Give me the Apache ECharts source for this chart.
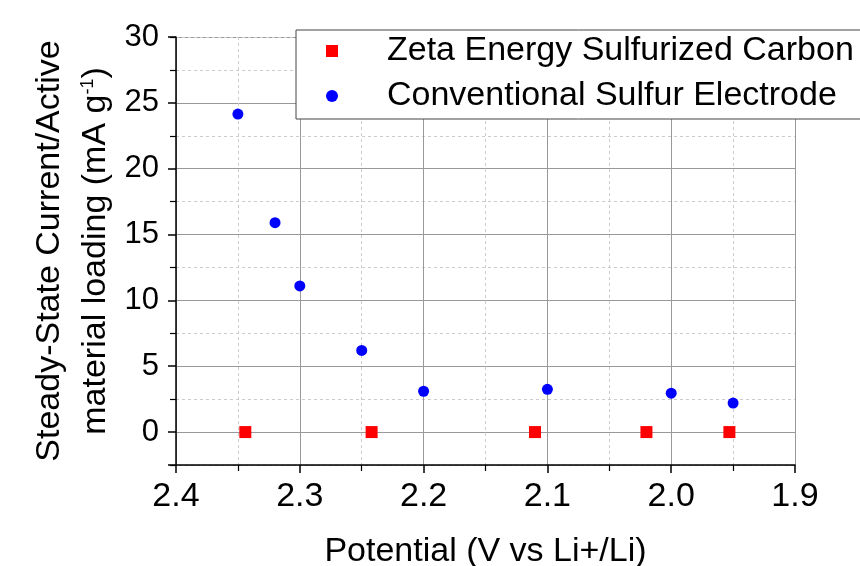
<!DOCTYPE html>
<html>
<head>
<meta charset="utf-8">
<script src="https://cdn.jsdelivr.net/npm/echarts@6/dist/echarts.min.js"></script>
<style>html,body{margin:0;padding:0;background:#fff}#c{width:860px;height:566px}</style>
</head>
<body>
<div id="c"></div>
<script>
var seriesNames = ['Zeta Energy Sulfurized Carbon', 'Conventional Sulfur Electrode'];
var zetaPotential = [2.344, 2.242, 2.110, 2.020, 1.953];
var zetaCurrent = [0, 0, 0, 0, 0];
var convPotential = [2.35, 2.32, 2.30, 2.25, 2.20, 2.10, 2.00, 1.95];
var convCurrent = [24.15, 15.9, 11.1, 6.2, 3.1, 3.25, 2.95, 2.2];
var xAxisTitle = 'Potential (V vs Li+/Li)';
var yAxisTitleLines = ['Steady-State Current/Active', 'material loading (mA g', '-1', ')'];

function pairs(xs, ys){ return xs.map(function(x,i){ return [x, ys[i]]; }); }

var FONT = 'Liberation Sans, Arial, sans-serif';
var chart = echarts.init(document.getElementById('c'), null, {renderer:'canvas'});
chart.setOption({
  backgroundColor: '#fff',
  animation: false,
  grid: {left: 176, right: 65, top: 37, bottom: 101, containLabel: false, outerBoundsMode: 'none'},
  legend: {
    orient: 'vertical', left: 296, top: 30,
    padding: [4, 40, 6, 30],
    itemGap: 11, itemWidth: 12, itemHeight: 12,
    borderColor: '#444', borderWidth: 1, backgroundColor: '#fff',
    textStyle: {fontFamily: FONT, fontSize: 34, color: '#000', padding: [0,0,0,44], lineHeight: 34},
    data: seriesNames
  },
  xAxis: {
    type: 'value', inverse: true, min: 1.9, max: 2.4, interval: 0.1,
    name: xAxisTitle, nameLocation: 'middle', nameGap: 70, nameMoveOverlap: false,
    nameTextStyle: {fontFamily: FONT, fontSize: 34, color: '#000'},
    axisLine: {show: true, onZero: false, lineStyle: {color: '#000', width: 1.5}},
    axisTick: {show: true, length: 8, lineStyle: {color: '#000', width: 1.5}},
    minorTick: {show: true, splitNumber: 2, length: 6, lineStyle: {color: '#000', width: 1.2}},
    axisLabel: {fontFamily: FONT, fontSize: 34, color: '#000', margin: 15, formatter: function(v){ return v.toFixed(1); }},
    splitLine: {show: true, lineStyle: {color: '#999', width: 1}},
    minorSplitLine: {show: true, lineStyle: {color: '#ccc', width: 1, type: [3,3]}}
  },
  yAxis: [{
    type: 'value', min: -2.5, max: 30, splitNumber: 7,
    name: '{a|' + yAxisTitleLines[0] + '}\n{a|' + yAxisTitleLines[1] + '}{s|' + yAxisTitleLines[2] + '}{a|' + yAxisTitleLines[3] + '}',
    nameLocation: 'middle', nameGap: 57, nameMoveOverlap: false,
    nameTextStyle: {fontFamily: FONT, fontSize: 34, color: '#000', lineHeight: 46,
      rich: {a: {fontFamily: FONT, fontSize: 34, color: '#000', lineHeight: 46},
             s: {fontFamily: FONT, fontSize: 18, color: '#000', lineHeight: 46, verticalAlign: 'top', padding:[6,0,0,0]}}},
    axisLine: {show: true, onZero: false, lineStyle: {color: '#000', width: 1.5}},
    axisTick: {show: true, length: 8, lineStyle: {color: '#000', width: 1.5}},
    axisLabel: {fontFamily: FONT, fontSize: 31, color: '#000', margin: 17,
      formatter: function(v){ return (v % 5 === 0) ? String(v) : ''; }},
    splitLine: {show: true, lineStyle: {color: '#999', width: 1}}
  }, {
    type: 'value', min: -2.5, max: 30, interval: 5, position: 'left',
    axisLine: {show: false},
    axisTick: {show: true, length: 6, lineStyle: {color: '#000', width: 1.2}},
    axisLabel: {show: false},
    splitLine: {show: true, lineStyle: {color: '#ccc', width: 1, type: [3,3]}}
  }],
  series: [{
    name: seriesNames[0], type: 'scatter', symbol: 'rect', symbolSize: 12,
    itemStyle: {color: '#ff0000', opacity: 1}, data: pairs(zetaPotential, zetaCurrent), z: 3
  }, {
    name: seriesNames[1], type: 'scatter', symbol: 'circle', symbolSize: 11,
    itemStyle: {color: '#0000ff', opacity: 1}, data: pairs(convPotential, convCurrent), z: 3
  }]
});
</script>
</body>
</html>
